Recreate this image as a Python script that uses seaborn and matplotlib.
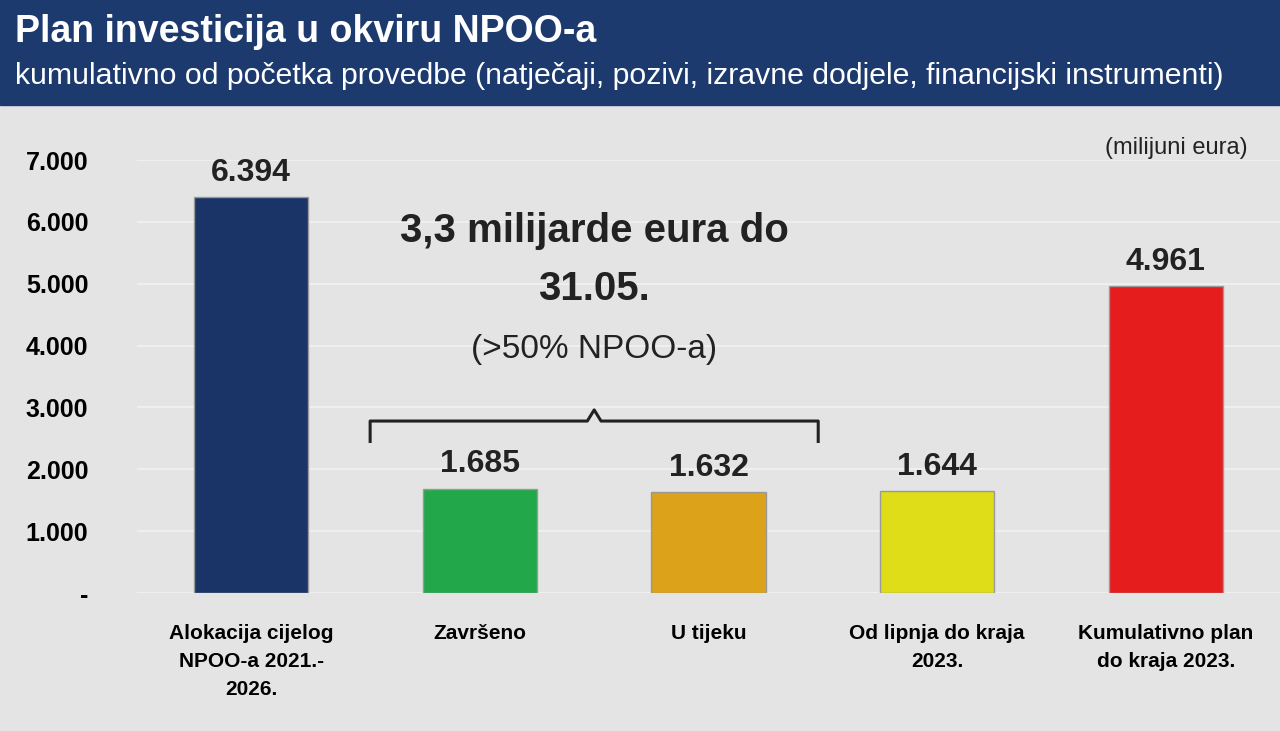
import matplotlib
matplotlib.use("Agg")
import matplotlib.pyplot as plt
import seaborn as sns
import pandas as pd

categories = ["Alokacija cijelog\nNPOO-a 2021.-\n2026.", "Završeno", "U tijeku",
              "Od lipnja do kraja\n2023.", "Kumulativno plan\ndo kraja 2023."]
values = [6394, 1685, 1632, 1644, 4961]
labels = ["6.394", "1.685", "1.632", "1.644", "4.961"]
colors = ["#1b3468", "#22a84a", "#dca21a", "#dfdc18", "#e51d1d"]
yticks = [0, 1000, 2000, 3000, 4000, 5000, 6000, 7000]
ytick_labels = ["-", "1.000", "2.000", "3.000", "4.000", "5.000", "6.000", "7.000"]

plt.rcParams["font.family"] = "Liberation Sans"
fig = plt.figure(figsize=(12.8, 7.31), dpi=100, facecolor="#e4e4e4")
fig.patches.append(plt.Rectangle((0, 1 - 105 / 731), 1, 105 / 731, transform=fig.transFigure,
                                 color="#1d3a6f", zorder=0))
fig.text(0.012, 1 - 32 / 731, "Plan investicija u okviru NPOO-a", color="white",
         fontsize=27, fontweight="bold", va="center")
fig.text(0.012, 1 - 76 / 731, "kumulativno od početka provedbe (natječaji, pozivi, izravne dodjele, financijski instrumenti)",
         color="white", fontsize=21.8, va="center")
fig.text(0.975, 1 - 148 / 731, "(milijuni eura)", fontsize=17, ha="right", va="center", color="#222")

ax = fig.add_axes([0.107, 1 - 593 / 731, 0.893, (593 - 160) / 731])
ax.set_facecolor("#e4e4e4")
df = pd.DataFrame({"cat": categories, "val": values})
sns.barplot(data=df, x="cat", y="val", hue="cat", palette=colors, legend=False, saturation=1,
            width=0.5, ax=ax, edgecolor="#999999", linewidth=1, zorder=3)
ax.set_xlim(-0.5, 4.5)
ax.set_ylim(0, 7000)
ax.set_yticks(yticks)
ax.set_yticklabels(ytick_labels, fontsize=18, fontweight="bold")
ax.tick_params(axis="y", length=0, pad=35)
ax.tick_params(axis="x", length=0, pad=22)
ax.set_xticks(range(5))
ax.set_xticklabels(categories, fontsize=15, fontweight="bold", va="top", linespacing=1.6)
ax.yaxis.grid(True, color="#f2f2f2", linewidth=1.2, zorder=0)
ax.set_axisbelow(True)
for s in ax.spines.values():
    s.set_visible(False)
ax.set_xlabel("")
ax.set_ylabel("")
for i, (v, l) in enumerate(zip(values, labels)):
    ax.text(i, v + 150, l, ha="center", va="bottom", fontsize=23, fontweight="bold", color="#222")

bx = [0.52, 0.52, 1.47, 1.5, 1.53, 2.48, 2.48]
by = [2450, 2780, 2780, 2960, 2780, 2780, 2450]
ax.plot(bx, by, color="#222", linewidth=2.2, zorder=4, solid_joinstyle="round")

ax.text(1.5, 5850, "3,3 milijarde eura do", ha="center", va="center", fontsize=29, fontweight="bold", color="#222")
ax.text(1.5, 4910, "31.05.", ha="center", va="center", fontsize=29, fontweight="bold", color="#222")
ax.text(1.5, 3940, "(>50% NPOO-a)", ha="center", va="center", fontsize=24, color="#222")

fig.savefig("out.png", dpi=100, facecolor=fig.get_facecolor())
